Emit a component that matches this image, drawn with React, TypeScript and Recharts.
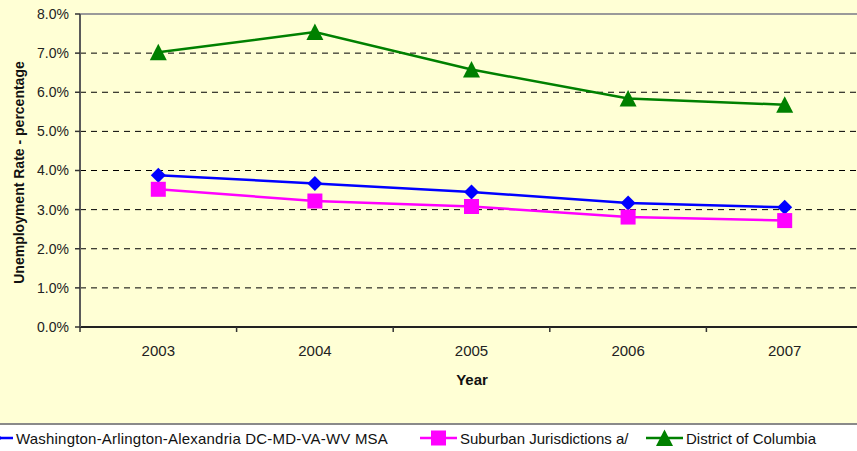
import React from 'react';
import { LineChart, Line, XAxis, YAxis, CartesianGrid, Legend, ReferenceLine } from 'recharts';

const years = ['2003', '2004', '2005', '2006', '2007'];
const msaRates = [3.88, 3.67, 3.45, 3.17, 3.06];
const suburbanRates = [3.52, 3.22, 3.08, 2.81, 2.72];
const dcRates = [7.02, 7.54, 6.58, 5.84, 5.68];
const yTicks = [0, 1, 2, 3, 4, 5, 6, 7, 8];

const seriesNames = [
  'Washington-Arlington-Alexandria DC-MD-VA-WV MSA',
  'Suburban Jurisdictions a/',
  'District of Columbia',
];
const seriesKeys = ['msa', 'suburban', 'dc'];
const seriesColors = ['#0000FF', '#FF00FF', '#008000'];
const seriesShapes = ['diamond', 'square', 'triangle'];

const data = years.map((year, i) => ({
  year,
  msa: msaRates[i],
  suburban: suburbanRates[i],
  dc: dcRates[i],
}));

const FONT = '"Liberation Sans", Arial, sans-serif';
const BG = '#FFFFD5';
const W = 864;
const H = 451;
const MARGIN = { top: 14, right: 1, bottom: 0, left: 0 };
const Y_AXIS_W = 80;
const BAND = (W - MARGIN.left - MARGIN.right - Y_AXIS_W) / years.length;

function Marker({ shape, cx, cy, color }: { shape: string; cx: number; cy: number; color: string }) {
  if (cx == null || cy == null) return null;
  if (shape === 'diamond') {
    const r = 7.5;
    return <polygon points={`${cx},${cy - r} ${cx + r},${cy} ${cx},${cy + r} ${cx - r},${cy}`} fill={color} />;
  }
  if (shape === 'square') {
    const s = 7.5;
    return <rect x={cx - s} y={cy - s} width={s * 2} height={s * 2} fill={color} />;
  }
  return <polygon points={`${cx},${cy - 8.5} ${cx + 8.5},${cy + 8} ${cx - 8.5},${cy + 8}`} fill={color} />;
}

const makeDot = (shape: string, color: string) => (props: any) => (
  <Marker key={`${shape}-${props.index}`} shape={shape} cx={props.cx} cy={props.cy} color={color} />
);

const XTick = (props: any) => {
  const { x, y, payload, index } = props;
  return (
    <g>
      <line x1={x - BAND / 2} x2={x - BAND / 2} y1={y} y2={y + 5} stroke="#333" strokeWidth={1.5} />
      {index === years.length - 1 && (
        <line x1={x + BAND / 2} x2={x + BAND / 2} y1={y} y2={y + 5} stroke="#333" strokeWidth={1.5} />
      )}
      <text x={x} y={y + 24} dy="0.355em" textAnchor="middle" fontSize={15} fill="#222" fontFamily={FONT}>
        {payload.value}
      </text>
    </g>
  );
};

const YLabel = (props: any) => {
  const vb = props.viewBox || { x: 0, y: 14, width: 80, height: 313 };
  const cx = 19;
  const cy = vb.y + vb.height / 2 + 2;
  return (
    <text
      x={cx}
      y={cy}
      transform={`rotate(-90 ${cx} ${cy})`}
      textAnchor="middle"
      dy="0.355em"
      fontSize={14}
      fontWeight="bold"
      fill="#111"
      fontFamily={FONT}
    >
      Unemployment Rate - percentage
    </text>
  );
};

const XLabel = (props: any) => {
  const vb = props.viewBox || { x: 80, y: 327, width: 783, height: 96 };
  const cx = 472;
  return (
    <text x={cx} y={vb.y + 53} dy="0.355em" textAnchor="middle" fontSize={15} fontWeight="bold" fill="#111" fontFamily={FONT}>
      Year
    </text>
  );
};

const legendLineStarts = [-24, 420, 646];

const renderLegend = () => (
  <div
    style={{
      position: 'relative',
      width: 857,
      height: 28,
      background: '#FFFFFF',
      borderTop: '2px solid #8a8a8a',
      boxSizing: 'border-box',
      fontFamily: FONT,
      fontSize: 15,
      color: '#111',
      overflow: 'hidden',
    }}
  >
    {seriesNames.map((name, i) => {
      const x0 = legendLineStarts[i];
      return (
        <div key={name} style={{ position: 'absolute', left: x0, top: 0, height: 26, display: 'flex', alignItems: 'center' }}>
          <svg width={37} height={20} style={{ display: 'block' }}>
            <line x1={0} x2={37} y1={10} y2={10} stroke={seriesColors[i]} strokeWidth={2.5} />
            <Marker shape={seriesShapes[i]} cx={18.5} cy={10} color={seriesColors[i]} />
          </svg>
          <span style={{ marginLeft: 3, whiteSpace: 'nowrap', letterSpacing: i === 0 ? 0.2 : 0 }}>{name}</span>
        </div>
      );
    })}
  </div>
);

export default function App() {
  return (
    <div style={{ position: 'absolute', top: 0, left: 0, width: 857, height: 451, overflow: 'hidden', background: BG }}>
      <LineChart width={W} height={H} data={data} margin={MARGIN}>
        <CartesianGrid vertical={false} stroke="#000" strokeDasharray="6 5" strokeWidth={1} />
        <ReferenceLine y={8} stroke="#9a9a9a" strokeWidth={2} />
        <XAxis
          dataKey="year"
          height={96}
          tickSize={0}
          tickMargin={0}
          tick={<XTick />}
          padding={{ left: BAND / 2, right: BAND / 2 }}
          axisLine={{ stroke: '#222', strokeWidth: 2 }}
          tickLine={false}
          interval={0}
          label={<XLabel />}
        />
        <YAxis
          width={Y_AXIS_W}
          domain={[0, 8]}
          ticks={yTicks}
          interval={0}
          tickFormatter={(v: number) => `${v.toFixed(1)}%`}
          tick={{ fontSize: 14, fill: '#222', fontFamily: FONT }}
          tickSize={5}
          tickMargin={6}
          axisLine={{ stroke: '#5a5a5a', strokeWidth: 2 }}
          tickLine={{ stroke: '#333', strokeWidth: 1.5 }}
          label={<YLabel />}
        />
        <Legend
          verticalAlign="bottom"
          content={renderLegend}
          wrapperStyle={{ left: 0, bottom: 0, width: 857, height: 28 }}
        />
        {seriesKeys.map((key, i) => (
          <Line
            key={key}
            type="linear"
            dataKey={key}
            name={seriesNames[i]}
            stroke={seriesColors[i]}
            strokeWidth={2.5}
            dot={makeDot(seriesShapes[i], seriesColors[i])}
            activeDot={false}
            isAnimationActive={false}
          />
        ))}
      </LineChart>
    </div>
  );
}
